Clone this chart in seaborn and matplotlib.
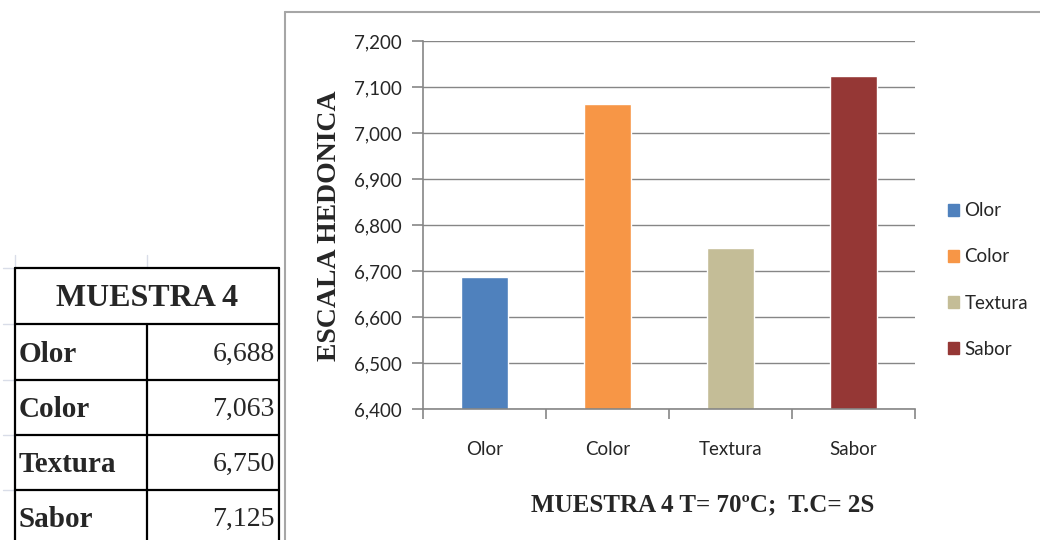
import pandas as pd
import matplotlib
matplotlib.use("Agg")
import matplotlib.pyplot as plt
from matplotlib.ticker import FuncFormatter, MultipleLocator
import seaborn as sns

# data
categories = ["Olor", "Color", "Textura", "Sabor"]
values = [6.688, 7.063, 6.750, 7.125]
bar_colors = ["#4F81BD", "#F79646", "#C4BD97", "#953735"]
table_title = "MUESTRA 4"
x_title = "MUESTRA 4 T= 70ºC;  T.C= 2S"
y_title = "ESCALA HEDONICA"

df = pd.DataFrame({"atributo": categories, "valor": values})

sns.set_style("white")
plt.rcParams["font.family"] = ["Lato", "DejaVu Sans"]

W, H = 1040, 540
fig = plt.figure(figsize=(10.4, 5.4), dpi=100)

# overlay for the frame and the spreadsheet table (pixel coords)
bg = fig.add_axes([0, 0, 1, 1])
bg.set_xlim(0, W)
bg.set_ylim(H, 0)
bg.axis("off")

# chart frame
bg.plot([285, 285], [12, 540], color="#a6a6a6", lw=1.5)
bg.plot([285, 1040], [12, 12], color="#a6a6a6", lw=1.5)

# faint spreadsheet gridlines
grid_c = "#d9dde8"
for x in [15, 147]:
    bg.plot([x, x], [255, 268], color=grid_c, lw=1)
for y in [268, 324, 380, 435, 490]:
    bg.plot([3, 15], [y, y], color=grid_c, lw=1)

# table borders
tl, tm, tr = 15, 147, 279
rows_y = [268, 324, 380, 435, 490, 545]
bg.plot([tl, tl], [268, 545], color="black", lw=1.6)
bg.plot([tr, tr], [268, 545], color="black", lw=1.6)
bg.plot([tm, tm], [324, 545], color="black", lw=1.6)
for y in rows_y[:-1]:
    bg.plot([tl, tr], [y, y], color="black", lw=1.6)

serif = "Liberation Serif"
bg.text((tl + tr) / 2, 298, table_title, ha="center", va="center",
        fontsize=23, fontweight="bold", family=serif)
for i, (cat, val) in enumerate(zip(categories, values)):
    yc = (rows_y[i + 1] + rows_y[i + 2]) / 2 + 2
    bg.text(tl + 4, yc, cat, ha="left", va="center", fontsize=21,
            fontweight="bold", family=serif)
    bg.text(tr - 4, yc, f"{val:.3f}".replace(".", ","), ha="right",
            va="center", fontsize=20, family=serif)

# bar chart
ax = fig.add_axes([423 / W, 1 - 409 / H, 492 / W, 368 / H])
sns.barplot(data=df, x="atributo", y="valor", hue="atributo",
            palette=bar_colors, width=0.39, dodge=False, legend=False,
            saturation=1, ax=ax)
ax.set_ylim(6.4, 7.2)
ax.set_xlim(-0.5, 3.5)
ax.yaxis.set_major_locator(MultipleLocator(0.1))
ax.yaxis.set_major_formatter(FuncFormatter(lambda v, p: f"{v:.3f}".replace(".", ",")))
ax.grid(axis="y", color="#868686", lw=1)
ax.set_axisbelow(True)
for s in ["top", "right"]:
    ax.spines[s].set_visible(False)
for s in ["left", "bottom"]:
    ax.spines[s].set_color("#868686")
    ax.spines[s].set_linewidth(1.2)
ax.tick_params(axis="y", length=8, width=1.2, color="#868686", pad=7,
               labelsize=13.5, left=True)
ax.set_xticks(range(len(categories)))
ax.set_xticklabels(categories)
ax.set_xticks([-0.5, 0.5, 1.5, 2.5, 3.5], minor=True)
ax.tick_params(axis="x", which="major", length=0, pad=23, labelsize=13.5)
ax.tick_params(axis="x", which="minor", length=7, width=1.2,
               color="#868686", bottom=True)
ax.set_xlabel("")
ax.set_ylabel("")

fig.text(330 / W, 1 - 226 / H, y_title, rotation=90, ha="center",
         va="center", fontsize=20, fontweight="bold", family=serif)
fig.text(703 / W, 1 - 505 / H, x_title, ha="center", va="center",
         fontsize=18, fontweight="bold", family=serif)

# legend
handles = [plt.Rectangle((0, 0), 1, 1, color=c) for c in bar_colors]
fig.legend(handles, categories, loc="center left",
           bbox_to_anchor=(940 / W, 1 - 280 / H), frameon=False,
           fontsize=13.5, handlelength=0.6, handleheight=0.6,
           handletextpad=0.3, labelspacing=1.55, borderaxespad=0)

fig.savefig("out.png", dpi=100)
